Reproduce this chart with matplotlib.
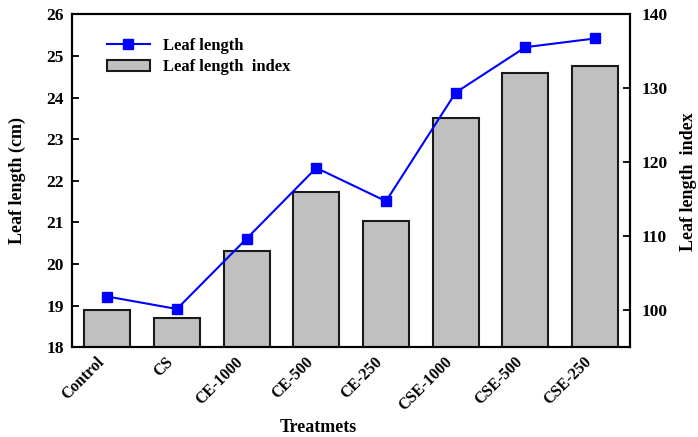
import numpy as np
import matplotlib
matplotlib.use('Agg')
import matplotlib.pyplot as plt
from matplotlib.lines import Line2D
from matplotlib.patches import Patch

# data
treatments = ['Control', 'CS', 'CE-1000', 'CE-500', 'CE-250',
              'CSE-1000', 'CSE-500', 'CSE-250']
leaf_length = [19.22, 18.92, 20.61, 22.31, 21.51, 24.12, 25.21, 25.42]
leaf_index = [100, 99, 108, 116, 112, 126, 132, 133]

plt.rcParams['font.family'] = ['Liberation Serif', 'DejaVu Serif']
plt.rcParams['font.weight'] = 'bold'

fig = plt.figure(figsize=(6.98, 4.37), dpi=100)
ax = fig.add_axes([0.1036, 0.2053, 0.7990, 0.7620])
ax2 = ax.twinx()

x = np.arange(len(treatments))

# bars on the index axis (behind the line)
ax2.bar(x, leaf_index, width=0.66, bottom=0, color='#c0c0c0',
        edgecolor='#1a1a1a', linewidth=1.5, zorder=1)
ax2.set_ylim(95, 140)
ax2.set_yticks([100, 110, 120, 130, 140])

# line on the length axis, drawn on top
ax.set_zorder(ax2.get_zorder() + 1)
ax.patch.set_visible(False)
ax.plot(x, leaf_length, color='#0000ff', linewidth=1.5, marker='s',
        markersize=7, markerfacecolor='#0000ff', markeredgecolor='#0000ff')
ax.set_ylim(18, 26)
ax.set_yticks(range(18, 27))
ax.set_xlim(-0.5, len(treatments) - 0.5)
ax.set_xticks(x)
ax.set_xticklabels(treatments, rotation=45, ha='right', fontsize=11.5,
                   fontweight='bold')
ax.tick_params(axis='x', length=0, pad=5)
ax.tick_params(axis='y', direction='in', length=5, width=1.3,
               labelsize=12.5, pad=6)
ax2.tick_params(axis='y', direction='in', length=5, width=1.3,
                labelsize=12.5, pad=8)

for a in (ax, ax2):
    for s in a.spines.values():
        s.set_linewidth(1.5)

fig.text(0.025, 0.588, 'Leaf length (cm)', rotation=90, fontsize=13,
         fontweight='bold', ha='center', va='center')
fig.text(0.987, 0.585, 'Leaf length  index', rotation=90, fontsize=13,
         fontweight='bold', ha='center', va='center')
fig.text(0.456, 0.022, 'Treatmets', fontsize=13, fontweight='bold',
         ha='center', va='center')

handles = [Line2D([0], [0], color='#0000ff', linewidth=1.5, marker='s',
                  markersize=7),
           Patch(facecolor='#c0c0c0', edgecolor='#1a1a1a', linewidth=1.5)]
ax.legend(handles, ['Leaf length', 'Leaf length  index'], loc='upper left',
          bbox_to_anchor=(0.035, 0.975), frameon=False, fontsize=12,
          handlelength=2.6, handletextpad=0.8, labelspacing=0.35)

fig.savefig('out.png', dpi=100)
